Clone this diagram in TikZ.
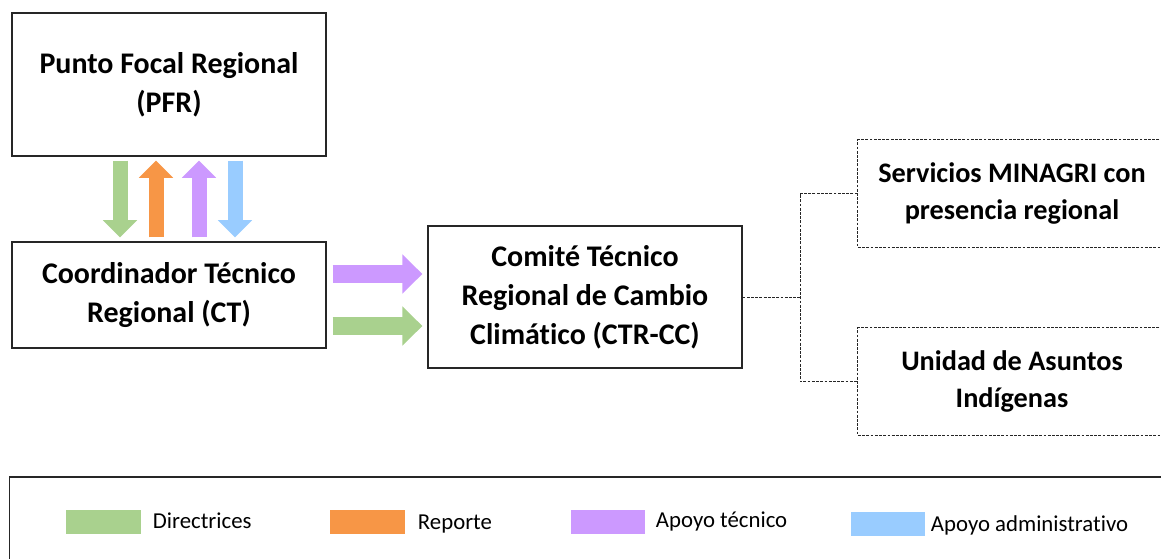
\documentclass[tikz,border=0pt]{standalone}
\usepackage{fontspec}
\setmainfont[Ligatures=NoCommon]{Carlito}
\usepackage{tikz}
\usetikzlibrary{arrows.meta,positioning}

\definecolor{dirgreen}{HTML}{A9D18E}
\definecolor{reporange}{HTML}{F79646}
\definecolor{tecpurple}{HTML}{CC99FF}
\definecolor{admblue}{HTML}{99CCFF}

\begin{document}
\begin{tikzpicture}[x=0.025cm,y=-0.025cm,
  unitbox/.style={draw=black!85,line width=0.8pt,align=center,inner sep=0pt,
    font=\fontsize{21.3}{27.7}\selectfont\bfseries},
  subbox/.style={unitbox,draw=black!85,line width=0.7pt,dash pattern=on 2pt off 1pt,
    font=\fontsize{20.1}{26.5}\selectfont\bfseries},
  fatv/.style={line width=0.375cm,-{Triangle[width=0.83cm,length=0.43cm]},
    shorten <=4*0.025cm,shorten >=4*0.025cm},
  fath/.style={line width=0.45cm,-{Triangle[width=0.95cm,length=0.5cm]},
    shorten <=6*0.025cm,shorten >=5*0.025cm},
  swatch/.style={minimum width=1.85cm,minimum height=0.62cm,inner sep=0pt},
  legtext/.style={anchor=west,font=\fontsize{16.2}{18}\selectfont}]
\useasboundingbox (0,0) rectangle (1161,558);

\node[unitbox,minimum width=7.85cm,minimum height=3.575cm] (pfr) at (169,84.5)
  {Punto Focal Regional\\(PFR)};
\node[unitbox,minimum width=7.85cm,minimum height=2.65cm] (ct) at (169,295)
  {Coordinador Técnico\\Regional (CT)};
\node[unitbox,minimum width=7.85cm,minimum height=3.55cm] (ctr) at (585,297)
  {Comité Técnico\\Regional de Cambio\\Climático (CTR-CC)};
\node[subbox,minimum width=7.7cm,minimum height=2.675cm] (serv) at (1012,193.5)
  {Servicios MINAGRI con\\presencia regional};
\node[subbox,minimum width=7.7cm,minimum height=2.675cm] (uai) at (1012,381.5)
  {Unidad de Asuntos\\Indígenas};

% flujos PFR - CT
\draw[fatv,dirgreen]   ([xshift=-49*0.025cm]pfr.south) -- ([xshift=-49*0.025cm]ct.north);
\draw[fatv,reporange]  ([xshift=-13*0.025cm]ct.north) -- ([xshift=-13*0.025cm]pfr.south);
\draw[fatv,tecpurple]  ([xshift=30*0.025cm]ct.north) -- ([xshift=30*0.025cm]pfr.south);
\draw[fatv,admblue]    ([xshift=66*0.025cm]pfr.south) -- ([xshift=66*0.025cm]ct.north);

% flujos CT - CTR-CC
\draw[fath,tecpurple] ([yshift=21*0.025cm]ct.east) -- ([yshift=21*0.025cm]ct.east -| ctr.west);
\draw[fath,dirgreen]  ([yshift=-31*0.025cm]ct.east) -- ([yshift=-31*0.025cm]ct.east -| ctr.west);

% enlaces punteados
\coordinate (junc) at (800,297);
\draw[black!85,line width=0.7pt,dash pattern=on 2pt off 1pt]
  (ctr.east) -- (junc) (serv.west) -| (junc) |- (uai.west);

% leyenda
\node[draw=black!85,line width=0.8pt,minimum width=28.85cm,minimum height=2.1cm,inner sep=0pt]
  (leg) at (587,519) {};
\node[swatch,fill=dirgreen]  (swdir) at (103.5,522) {};
\node[legtext] (txdir) at (148,521) {Directrices};
\node[swatch,fill=reporange] (swrep) at (367.5,522) {};
\node[legtext] (txrep) at (413,524) {Reporte};
\node[swatch,fill=tecpurple] (swtec) at (608,522) {};
\node[legtext] (txtec) at (651,521) {Apoyo técnico};
\node[swatch,fill=admblue]   (swadm) at (888,524) {};
\node[legtext] (txadm) at (926,525) {Apoyo administrativo};
\end{tikzpicture}
\end{document}
